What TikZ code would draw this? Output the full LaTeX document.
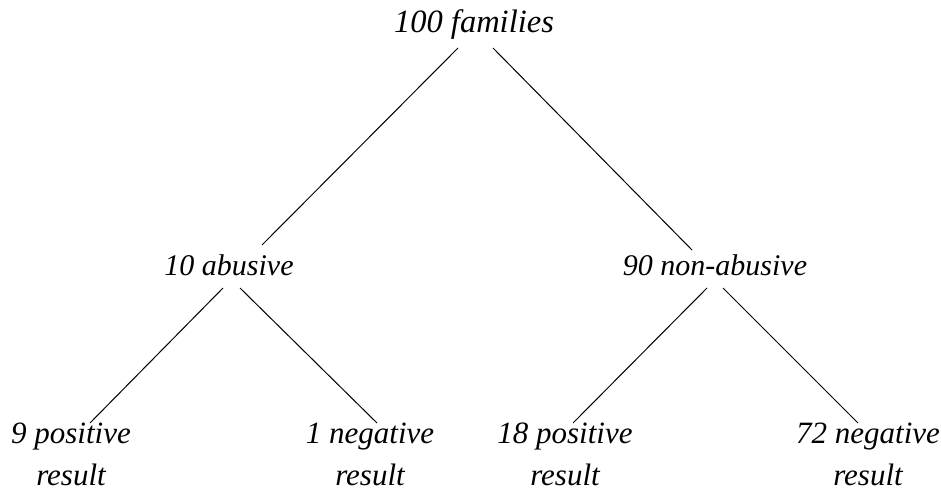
\documentclass[tikz,border=0pt]{standalone}
\usepackage{fontspec}
\setmainfont{Liberation Serif}
\usetikzlibrary{calc}
\begin{document}
\begin{tikzpicture}[x=1pt,y=-1pt,
  lbl/.style={font=\fontsize{30}{42}\selectfont\itshape, inner sep=0pt, anchor=base, align=center},
  big/.style={font=\fontsize{32.5}{42}\selectfont\itshape},
  leaf/.style={font=\fontsize{31}{42}\selectfont\itshape},
  edge/.style={line width=1pt}]
\useasboundingbox (0,0) rectangle (941,494);
\node[lbl,big] (root) at (474,33) {100 families};
\node[lbl] (ab) at (229,275) {10 abusive};
\node[lbl] (na) at (715,275) {90 non-abusive};
\node[lbl,leaf] (l1) at (71,485) {9 positive\\result};
\node[lbl,leaf] (l2) at (370,485) {1 negative\\result};
\node[lbl,leaf] (l3) at (565,485) {18 positive\\result};
\node[lbl,leaf] (l4) at (868,485) {72 negative\\result};
\draw[edge] ($(root.base)+(-16,15)$) -- ($(ab.base)+(33,-30)$);
\draw[edge] ($(root.base)+(19,15)$) -- ($(na.base)+(-23,-25)$);
\draw[edge] ($(ab.base)+(-6,13)$) -- ($(l1.base)+(19,-62)$);
\draw[edge] ($(ab.base)+(11,13)$) -- ($(l2.base)+(7,-62)$);
\draw[edge] ($(na.base)+(-8,13)$) -- ($(l3.base)+(8,-62)$);
\draw[edge] ($(na.base)+(8,13)$) -- ($(l4.base)+(-10,-62)$);
\end{tikzpicture}
\end{document}
